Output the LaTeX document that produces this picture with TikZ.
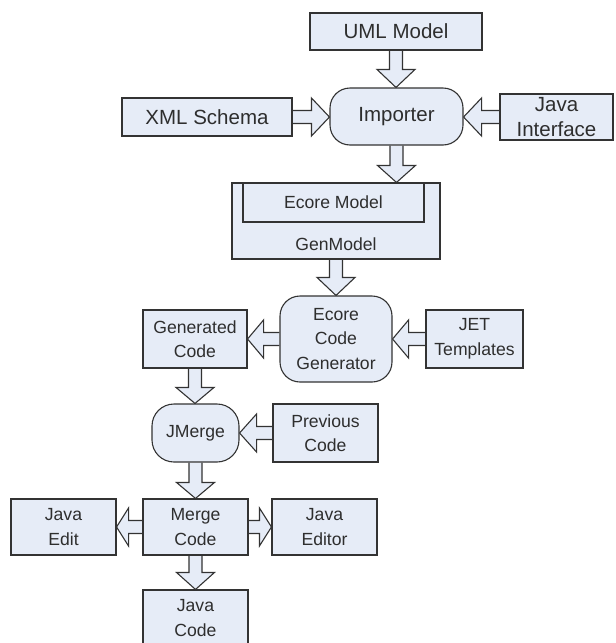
\documentclass[tikz,border=0pt]{standalone}
\usepackage{fontspec}
\setmainfont{Liberation Sans}
\usetikzlibrary{calc,backgrounds}
\definecolor{boxfill}{HTML}{E6ECF7}
\definecolor{lineg}{HTML}{333333}
\definecolor{txt}{HTML}{2E2E2E}
\newcommand\bigf{\fontsize{20.5}{24.5}\selectfont}
\newcommand\smf{\fontsize{17.6}{24.5}\selectfont}
\tikzset{
  box/.style={draw=lineg, fill=boxfill, line width=1.1pt, inner sep=0pt, align=center, text=txt, font=\smf},
  bigbox/.style={box, font=\bigf},
  rbox/.style={box, rounded corners=20pt},
  label/.style={inner sep=0pt, text=txt, font=\smf},
  blk/.style={draw=lineg, fill=boxfill, line width=1.1pt, line join=miter},
}
% block arrows: [head length]{from}{to}
\newcommand\bdown[3][17pt]{\filldraw[blk] let \p1=(#2), \p2=(#3) in
  (\x1-6.5pt,\y1) -- (\x1-6.5pt,\y2+#1) -- (\x1-19pt,\y2+#1) -- (\x1,\y2)
  -- (\x1+19pt,\y2+#1) -- (\x1+6.5pt,\y2+#1) -- (\x1+6.5pt,\y1);}
\newcommand\bleft[3][17pt]{\filldraw[blk] let \p1=(#2), \p2=(#3) in
  (\x1,\y1+6.5pt) -- (\x2+#1,\y1+6.5pt) -- (\x2+#1,\y1+19pt) -- (\x2,\y1)
  -- (\x2+#1,\y1-19pt) -- (\x2+#1,\y1-6.5pt) -- (\x1,\y1-6.5pt);}
\newcommand\bright[3][17pt]{\filldraw[blk] let \p1=(#2), \p2=(#3) in
  (\x1,\y1+6.5pt) -- (\x2-#1,\y1+6.5pt) -- (\x2-#1,\y1+19pt) -- (\x2,\y1)
  -- (\x2-#1,\y1-19pt) -- (\x2-#1,\y1-6.5pt) -- (\x1,\y1-6.5pt);}
\begin{document}
\begin{tikzpicture}[x=1pt,y=-1pt]
\useasboundingbox (0,0) rectangle (616,643);
\clip (0,0) rectangle (616,643);

\node[bigbox, minimum width=172pt, minimum height=37pt] (uml) at (396,31.5) {UML Model};
\node[bigbox, rounded corners=20pt, minimum width=133pt, minimum height=57pt] (imp) at (396.5,116.5) {Importer};
\node[bigbox, minimum width=170pt, minimum height=38pt] (xml) at (207,117) {XML Schema};
\node[bigbox, minimum width=113pt, minimum height=46pt] (jint) at (556.5,117) {Java\\Interface};

\node[box, minimum width=208pt, minimum height=76pt] (gen) at (336,221) {};
\node[box, minimum width=181pt, minimum height=39pt] (ecore) at (333.5,202.5) {Ecore Model};
\node[label] (gentxt) at (336,244) {GenModel};

\node[rbox, minimum width=112pt, minimum height=86pt] (ecg) at (336,339) {Ecore\\Code\\Generator};
\node[box, minimum width=104pt, minimum height=58pt] (gcode) at (195,339) {Generated\\Code};
\node[box, minimum width=97pt, minimum height=58pt] (jet) at (474.5,339) {JET\\Templates};

\node[box, rounded corners=22pt, minimum width=87pt, minimum height=58pt] (jm) at (195.5,433) {JMerge};
\node[box, minimum width=105pt, minimum height=58pt] (prev) at (325.5,433) {Previous\\Code};

\node[box, minimum width=105pt, minimum height=56pt] (merge) at (195.5,527) {Merge\\Code};
\node[box, minimum width=105pt, minimum height=56pt] (jedit) at (63.5,527) {Java\\Edit};
\node[box, minimum width=105pt, minimum height=56pt] (jeditor) at (324.5,527) {Java\\Editor};
\node[box, minimum width=105pt, minimum height=56pt] (jcode) at (195.5,618) {Java\\Code};

\begin{scope}[on background layer]
  \bdown[18pt]{uml.south}{imp.north}
  \bright[18pt]{xml.east}{imp.west}
  \bleft[18pt]{jint.west}{imp.east}
  \bdown[17pt]{imp.south}{gen.north}
  \bdown[18pt]{gen.south}{ecg.north}
  \bleft[16pt]{ecg.west}{gcode.east}
  \bleft[16pt]{jet.west}{ecg.east}
  \bdown[16pt]{gcode.south}{jm.north}
  \bleft[17pt]{prev.west}{jm.east}
  \bdown[16pt]{jm.south}{merge.north}
  \bleft[12pt]{merge.west}{jedit.east}
  \bright[12pt]{merge.east}{jeditor.west}
  \bdown[17pt]{merge.south}{jcode.north}
\end{scope}
\end{tikzpicture}
\end{document}
